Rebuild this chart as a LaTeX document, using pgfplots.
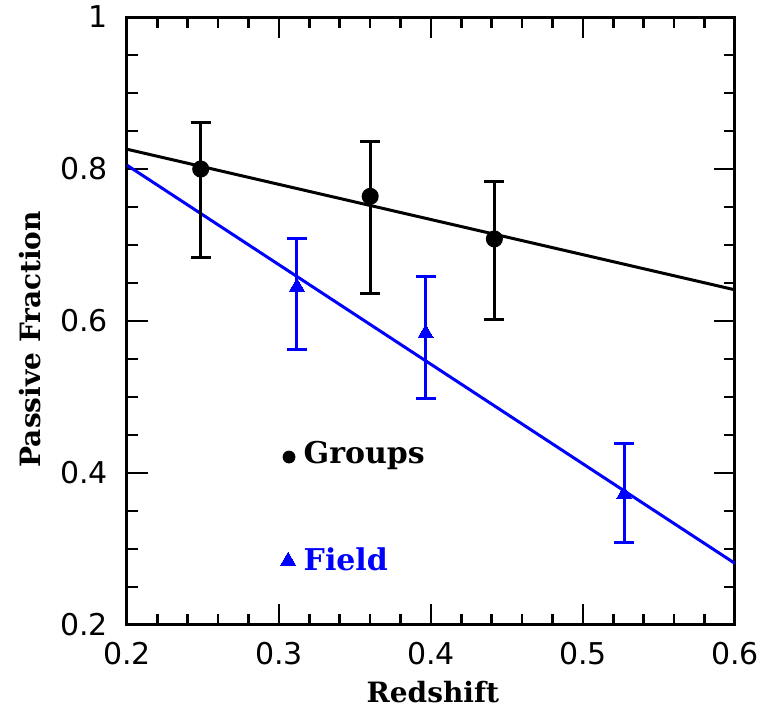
\documentclass[border=0pt]{standalone}
\usepackage{fontspec}
\setmainfont{DejaVu Serif}
\newfontfamily\tickfont{DejaVu Sans}
\usepackage{pgfplots}
\pgfplotsset{compat=1.18}

\definecolor{fieldblue}{RGB}{0,0,255}

\begin{document}
\begin{tikzpicture}
\begin{axis}[
    width=304pt, height=304pt, scale only axis,
    xmin=0.2, xmax=0.6, ymin=0.2, ymax=1,
    xtick={0.2,0.3,0.4,0.5,0.6},
    ytick={0.2,0.4,0.6,0.8,1},
    minor x tick num=4, minor y tick num=3,
    tick align=inside,
    major tick length=10.5pt, minor tick length=5.5pt,
    tick style={line width=1.3pt, black},
    axis line style={line width=1.5pt},
    /pgf/number format/assume math mode=true,
    ticklabel style={font=\tickfont\fontsize{15}{16}\selectfont},
    xticklabel style={yshift=-5pt},
    yticklabel style={xshift=-6pt},
    label style={font=\bfseries\fontsize{14}{16}\selectfont},
    xlabel={Redshift},
    ylabel={Passive Fraction},
    xlabel style={at={(axis description cs:0.503,-0.11)}, anchor=center},
    ylabel style={at={(axis description cs:-0.16,0.47)}, anchor=center},
    clip=true,
]
% fitted lines
\addplot[black, line width=1.5pt] coordinates {(0.2,0.826) (0.6,0.641)};
\addplot[fieldblue, line width=1.5pt] coordinates {(0.2,0.805) (0.6,0.281)};

% groups
\addplot[black, only marks, mark=*, mark size=3.5pt, line width=1.5pt,
    error bars/.cd, y dir=both, y explicit,
    error bar style={line width=1.5pt, black},
    error mark options={rotate=90, mark size=5pt, line width=1.5pt, black}]
table[x=x, y=y, y error plus=ep, y error minus=em] {
    x       y      ep     em
    0.2485  0.800  0.061  0.116
    0.360   0.764  0.072  0.128
    0.4417  0.708  0.075  0.106
};

% field
\addplot[fieldblue, only marks, mark=triangle*, mark size=4.3pt, line width=1.5pt,
    mark options={fill=fieldblue, draw=fieldblue, line width=0pt},
    error bars/.cd, y dir=both, y explicit,
    error bar style={line width=1.5pt, fieldblue},
    error mark options={rotate=90, mark size=5pt, line width=1.5pt, fieldblue}]
table[x=x, y=y, y error plus=ep, y error minus=em] {
    x       y      ep     em
    0.3118  0.645  0.063  0.082
    0.3965  0.584  0.074  0.086
    0.527   0.372  0.067  0.064
};

% in-plot key
\addplot[black, only marks, mark=*, mark size=3pt] coordinates {(0.3066,0.421)};
\addplot[fieldblue, only marks, mark=triangle*, mark size=4.3pt,
    mark options={fill=fieldblue, draw=fieldblue, line width=0pt}] coordinates {(0.306,0.2845)};
\node[anchor=west, inner sep=0pt, font=\bfseries\fontsize{15}{16}\selectfont] at (axis cs:0.316,0.423) {Groups};
\node[anchor=west, inner sep=0pt, text=fieldblue, font=\bfseries\fontsize{15}{16}\selectfont] at (axis cs:0.316,0.287) {Field};
\end{axis}
\pgfresetboundingbox
\path ([xshift=-63.5pt,yshift=-45pt]current axis.south west) rectangle ([xshift=13pt,yshift=8.5pt]current axis.north east);
\end{tikzpicture}
\end{document}
